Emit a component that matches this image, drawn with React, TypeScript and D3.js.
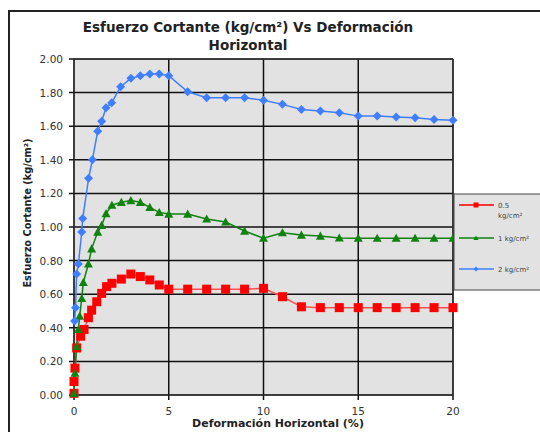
import React from "react";
import * as d3 from "d3";

const xTicks = [0, 5, 10, 15, 20];
const yTicks = [0, 0.2, 0.4, 0.6, 0.8, 1.0, 1.2, 1.4, 1.6, 1.8, 2.0];

const redX = [0, 0, 0.05, 0.14, 0.35, 0.53, 0.76, 0.93, 1.2, 1.46, 1.72, 2, 2.5, 3, 3.5, 4, 4.5, 5, 6, 7, 8, 9, 10, 11, 12, 13, 14, 15, 16, 17, 18, 19, 20];
const redY = [0.01, 0.08, 0.16, 0.28, 0.35, 0.39, 0.46, 0.505, 0.555, 0.605, 0.645, 0.665, 0.69, 0.72, 0.705, 0.685, 0.655, 0.63, 0.63, 0.63, 0.63, 0.63, 0.635, 0.585, 0.525, 0.52, 0.52, 0.52, 0.52, 0.52, 0.52, 0.52, 0.52];

const greenX = [0, 0.05, 0.14, 0.23, 0.3, 0.41, 0.49, 0.76, 0.93, 1.25, 1.46, 1.69, 2, 2.5, 3, 3.5, 4, 4.5, 5, 6, 7, 8, 9, 10, 11, 12, 13, 14, 15, 16, 17, 18, 19, 20];
const greenY = [0.01, 0.13, 0.29, 0.39, 0.47, 0.575, 0.67, 0.78, 0.87, 0.97, 1.01, 1.08, 1.13, 1.147, 1.157, 1.147, 1.117, 1.087, 1.077, 1.077, 1.048, 1.03, 0.976, 0.933, 0.966, 0.952, 0.946, 0.935, 0.933, 0.933, 0.933, 0.933, 0.933, 0.933];

const blueX = [0.03, 0.08, 0.14, 0.23, 0.41, 0.46, 0.77, 0.97, 1.25, 1.46, 1.69, 1.99, 2.46, 3, 3.5, 4, 4.5, 5, 6, 7, 8, 9, 10, 11, 12, 13, 14, 15, 16, 17, 18, 19, 20];
const blueY = [0.44, 0.52, 0.72, 0.78, 0.97, 1.05, 1.29, 1.4, 1.57, 1.63, 1.71, 1.74, 1.835, 1.885, 1.9, 1.91, 1.91, 1.9, 1.805, 1.77, 1.77, 1.77, 1.755, 1.73, 1.7, 1.69, 1.68, 1.66, 1.66, 1.655, 1.65, 1.64, 1.635];

const seriesNames = ["0.5 kg/cm²", "1 kg/cm²", "2 kg/cm²"];

const W = 540, H = 432;
const pl = 74, pr = 453, pt = 59, pb = 395;

export default function App() {
  const x = d3.scaleLinear().domain([0, 20]).range([pl, pr]);
  const y = d3.scaleLinear().domain([0, 2]).range([pb, pt]);
  const line = d3.line<[number, number]>().x(d => x(d[0])).y(d => y(d[1]));
  const mk = (xs: number[], ys: number[]) => xs.map((v, i) => [v, ys[i]] as [number, number]);
  const red = mk(redX, redY), green = mk(greenX, greenY), blue = mk(blueX, blueY);
  const redC = "#ff0000", greenC = "#0f820f", blueC = "#3f7fff";
  const sq = (cx: number, cy: number, k: string, s = 9) => <rect key={k} x={cx - s / 2} y={cy - s / 2} width={s} height={s} fill={redC} />;
  const tri = (cx: number, cy: number, k: string, s = 4.5) => <path key={k} d={`M${cx},${cy - s} L${cx + s},${cy + s * 0.8} L${cx - s},${cy + s * 0.8}Z`} fill={greenC} />;
  const dia = (cx: number, cy: number, k: string, s = 4.5) => <path key={k} d={`M${cx},${cy - s} L${cx + s},${cy} L${cx},${cy + s} L${cx - s},${cy}Z`} fill={blueC} />;
  const font = "'DejaVu Sans', Verdana, sans-serif";
  return (
    <svg width={W} height={H} style={{ position: "absolute", left: 0, top: 0 }} fontFamily={font}>
      <rect x={0} y={0} width={W} height={H} fill="#fff" />
      <rect x={9} y={11} width={560} height={460} fill="none" stroke="#222" strokeWidth={2} />
      <text x={248} y={32} textAnchor="middle" fontSize={13.5} fontWeight="bold" fill="#222">Esfuerzo Cortante (kg/cm²) Vs Deformación</text>
      <text x={248} y={50} textAnchor="middle" fontSize={13.5} fontWeight="bold" fill="#222">Horizontal</text>
      <rect x={pl} y={pt} width={pr - pl} height={pb - pt} fill="#e2e2e2" />
      {yTicks.map((t, i) => (
        <line key={"gy" + i} x1={pl - 5} x2={pr} y1={y(t)} y2={y(t)} stroke="#111" strokeWidth={1.5} />
      ))}
      {xTicks.map((t, i) => (
        <line key={"gx" + i} x1={x(t)} x2={x(t)} y1={pt} y2={pb + 5} stroke="#111" strokeWidth={1.5} />
      ))}
      <rect x={pl} y={pt} width={pr - pl} height={pb - pt} fill="none" stroke="#333" strokeWidth={1} />
      {yTicks.map((t, i) => (
        <text key={"ty" + i} x={63} y={y(t) + 4} textAnchor="end" fontSize={10.5} fill="#333">{t.toFixed(2)}</text>
      ))}
      {xTicks.map((t, i) => (
        <text key={"tx" + i} x={x(t)} y={415} textAnchor="middle" fontSize={10.5} fill="#333">{t}</text>
      ))}
      <text x={278} y={427} textAnchor="middle" fontSize={11} fontWeight="bold" fill="#222">Deformación Horizontal (%)</text>
      <text transform={`translate(31,213) rotate(-90)`} textAnchor="middle" fontSize={9.8} fontWeight="bold" fill="#222">Esfuerzo Cortante (kg/cm²)</text>
      <path d={line(red) || ""} fill="none" stroke="#ff5050" strokeWidth={1.5} />
      <path d={line(green) || ""} fill="none" stroke={greenC} strokeWidth={1.5} />
      <path d={line(blue) || ""} fill="none" stroke={blueC} strokeWidth={1.5} />
      {red.map((d, i) => sq(x(d[0]), y(d[1]), "r" + i))}
      {green.map((d, i) => tri(x(d[0]), y(d[1]), "g" + i))}
      {blue.map((d, i) => dia(x(d[0]), y(d[1]), "b" + i))}
      <rect x={454} y={194} width={100} height={96} fill="#e2e2e2" stroke="#444" strokeWidth={1} />
      <line x1={459} x2={494} y1={205} y2={205} stroke={redC} strokeWidth={1.5} />
      {sq(476, 205, "lr", 5)}
      <text x={498} y={208} fontSize={7} fill="#444">0.5</text>
      <text x={498} y={218} fontSize={7} fill="#444">kg/cm²</text>
      <line x1={459} x2={494} y1={238} y2={238} stroke={greenC} strokeWidth={1.5} />
      {tri(476, 238, "lg", 2.5)}
      <text x={498} y={241} fontSize={7} fill="#444">{seriesNames[1]}</text>
      <line x1={459} x2={494} y1={269} y2={269} stroke={blueC} strokeWidth={1.5} />
      {dia(476, 269, "lb", 2.5)}
      <text x={498} y={272} fontSize={7} fill="#444">{seriesNames[2]}</text>
    </svg>
  );
}
